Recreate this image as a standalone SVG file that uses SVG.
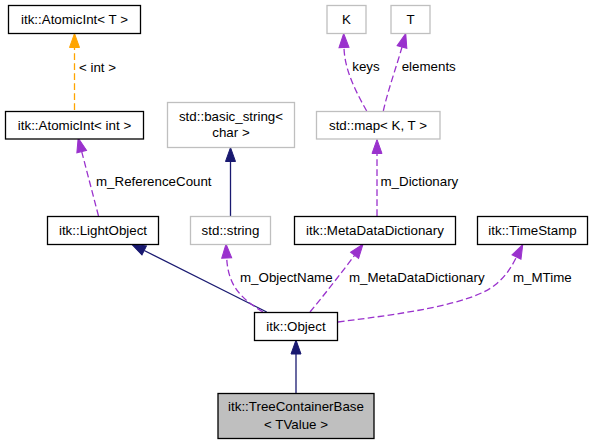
<svg xmlns="http://www.w3.org/2000/svg" width="593" height="445" viewBox="0 0 593 445">
<defs>
<style>
text{font-family:"Liberation Sans",Arial,sans-serif;font-size:13.33px;fill:#000}
.n{fill:#fff;stroke:#000;stroke-width:1.3}
.g{fill:#fff;stroke:#bfbfbf;stroke-width:1.3}
.cur{fill:#bfbfbf;stroke:#000;stroke-width:1.3}
.c{text-anchor:middle}
.inh{fill:none;stroke:#191970;stroke-width:1.3;marker-end:url(#an)}
.use{fill:none;stroke:#9a32cd;stroke-width:1.3;stroke-dasharray:6.7,3.3;marker-end:url(#ap)}
.tpl{fill:none;stroke:#ffa500;stroke-width:1.3;stroke-dasharray:6.7,3.3;marker-end:url(#ao)}
</style>
<marker id="an" markerUnits="userSpaceOnUse" markerWidth="14" markerHeight="10" refX="0" refY="5" orient="auto" overflow="visible"><path d="M0,0 L14,5 L0,10 z" fill="#191970" stroke="#191970" stroke-width="1"/></marker>
<marker id="ap" markerUnits="userSpaceOnUse" markerWidth="14" markerHeight="10" refX="0" refY="5" orient="auto" overflow="visible"><path d="M0,0 L14,5 L0,10 z" fill="#9a32cd" stroke="#9a32cd" stroke-width="1"/></marker>
<marker id="ao" markerUnits="userSpaceOnUse" markerWidth="14" markerHeight="10" refX="0" refY="5" orient="auto" overflow="visible"><path d="M0,0 L14,5 L0,10 z" fill="#ffa500" stroke="#ffa500" stroke-width="1"/></marker>
</defs>
<g id="connectors">
<path class="tpl" d="M74.5,110 L74.5,47.5"/>
<text x="79" y="71.7">&lt; int &gt;</text>
<path class="use" d="M98.5,216 L81.7,151.6"/>
<text x="96" y="186.4">m_ReferenceCount</text>
<path class="inh" d="M230.5,216 L230.5,161.5"/>
<path class="use" d="M366.7,111 C356,92 344.5,70 344,47.5"/>
<text x="352.3" y="70.7">keys</text>
<path class="use" d="M383.3,111 C388,90 397,65 402,47"/>
<text x="401.7" y="70.7">elements</text>
<path class="use" d="M377,216 L377,153.5"/>
<text x="380.5" y="186.4">m_Dictionary</text>
<path class="inh" d="M266.7,312 L144.2,250.5"/>
<path class="use" d="M263,312 C240,298 228,285 226.7,258"/>
<text x="240" y="282.4">m_ObjectName</text>
<path class="use" d="M310,312 C325,294 342,272 354.6,255.3"/>
<text x="349" y="282.4">m_MetaDataDictionary</text>
<path class="use" d="M338,322 C400,314 470,305 495,285 C505,277 511,268 516.5,257"/>
<text x="513" y="282.4">m_MTime</text>
<path class="inh" d="M296,393 L296,354"/>
</g>
<g id="atomicint_t"><rect class="n" x="8.5" y="5.5" width="132" height="28"/><text class="c" x="74.5" y="24">itk::AtomicInt&lt; T &gt;</text></g>
<g id="atomicint_int"><rect class="n" x="5.5" y="111.5" width="138" height="27.5"/><text class="c" x="74.5" y="130">itk::AtomicInt&lt; int &gt;</text></g>
<g id="lightobject"><rect class="n" x="47.5" y="216.5" width="111" height="28"/><text class="c" x="103" y="235">itk::LightObject</text></g>
<g id="basic_string"><rect class="g" x="167.5" y="102.5" width="127" height="45"/><text class="c" x="231" y="120.7">std::basic_string&lt;</text><text class="c" x="231" y="137.4">char &gt;</text></g>
<g id="string"><rect class="g" x="190.5" y="216.5" width="80" height="28"/><text class="c" x="230.5" y="235">std::string</text></g>
<g id="metadatadictionary"><rect class="n" x="294.5" y="216.5" width="161" height="28"/><text class="c" x="375" y="235">itk::MetaDataDictionary</text></g>
<g id="timestamp"><rect class="n" x="477.5" y="216.5" width="110" height="28"/><text class="c" x="532.5" y="235">itk::TimeStamp</text></g>
<g id="k"><rect class="g" x="327" y="5.5" width="39" height="28"/><text class="c" x="346.5" y="24">K</text></g>
<g id="t"><rect class="g" x="391" y="5.5" width="39" height="28"/><text class="c" x="410.5" y="24">T</text></g>
<g id="map"><rect class="g" x="316.5" y="111.5" width="123.5" height="27.5"/><text class="c" x="378" y="130">std::map&lt; K, T &gt;</text></g>
<g id="object"><rect class="n" x="254.5" y="312.5" width="83" height="28"/><text class="c" x="296" y="331">itk::Object</text></g>
<g id="treecontainerbase"><rect class="cur" x="218" y="393.5" width="156" height="45"/><text class="c" x="296" y="411.4">itk::TreeContainerBase</text><text class="c" x="296" y="429">&lt; TValue &gt;</text></g>
</svg>
